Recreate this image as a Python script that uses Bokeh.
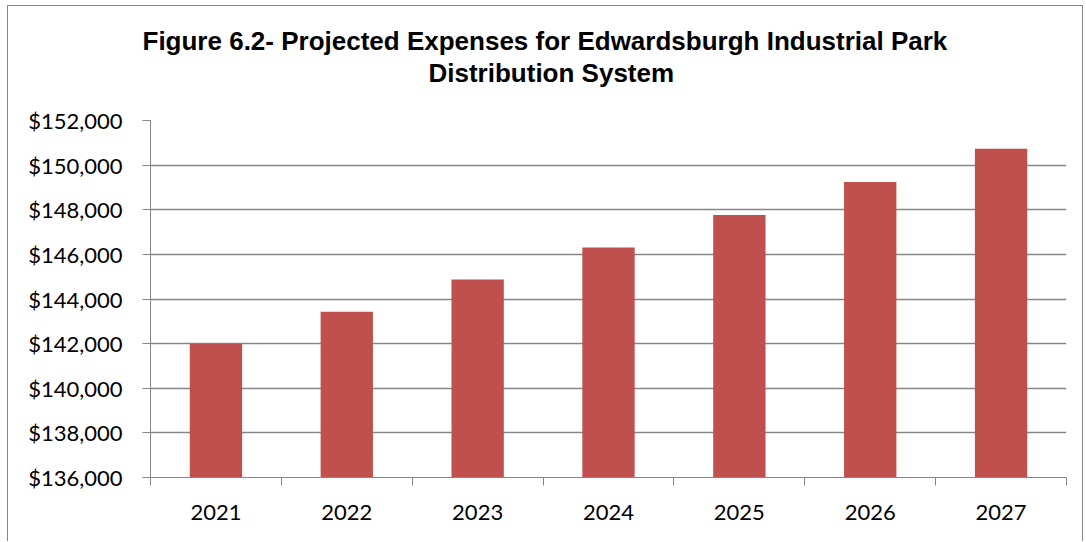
from bokeh.plotting import figure
from bokeh.models import Range1d, FixedTicker, NumeralTickFormatter, Title, ColumnDataSource
from bokeh.embed import file_html
from bokeh.resources import INLINE

# ---- data ----
years = ["2021", "2022", "2023", "2024", "2025", "2026", "2027"]
expenses = [142000, 143430, 144870, 146310, 147770, 149240, 150730]
y_ticks = [136000, 138000, 140000, 142000, 144000, 146000, 148000, 150000, 152000]
title_line1 = "Figure 6.2- Projected Expenses for Edwardsburgh Industrial Park"
title_line2 = "Distribution System"

# ---- layout helpers (category slots on a numeric scale) ----
centers = [i + 0.5 for i in range(len(years))]
bounds = list(range(len(years) + 1))

src = ColumnDataSource(dict(x=centers, year=years, expense=expenses))

GRAY = "#868686"
LABEL_FONT = "Lato"
MB_TOP, FRAME_H, MB_BOTTOM = 114, 357, 64

p = figure(
    frame_width=916, frame_height=FRAME_H,
    x_range=Range1d(0, len(years)),
    y_range=Range1d(y_ticks[0], y_ticks[-1]),
    output_backend="svg", toolbar_location=None,
    min_border_left=142, min_border_right=16,
    min_border_top=MB_TOP, min_border_bottom=MB_BOTTOM,
)
p.styles = {"margin-left": "7px", "margin-top": "5px",
            "border-left": "1px solid " + GRAY,
            "border-top": "1px solid " + GRAY,
            "border-right": "1px solid " + GRAY}
p.outline_line_color = None
p.background_fill_color = "white"
p.border_fill_color = "white"

p.vbar(x="x", top="expense", bottom=y_ticks[0], width=0.4, source=src,
       fill_color="#C0504D", line_color=None)

# x axis (the default bottom axis)
xa = p.below[0]
xa.ticker = FixedTicker(ticks=centers, minor_ticks=bounds)
xa.major_label_overrides = {c: y for c, y in zip(centers, years)}
xa.major_tick_out = 0
xa.major_tick_in = 0
xa.minor_tick_out = 8
xa.minor_tick_in = 0
xa.minor_tick_line_color = GRAY
xa.axis_line_color = GRAY
xa.major_label_standoff = 19
xa.major_label_text_font = LABEL_FONT
xa.major_label_text_font_size = "22px"
xa.major_label_text_color = "#000000"
p.xgrid.visible = False

# two-line title (added nearest-to-plot first)
title_style = dict(align="left", text_font="Liberation Sans", text_font_style="bold",
                   text_font_size="26px", text_color="#000000")
p.add_layout(Title(text=title_line2, offset=278, standoff=66, **title_style), "above")
p.add_layout(Title(text=title_line1, offset=-8, standoff=-66, **title_style), "above")

# y axis
ya = p.left[0]
ya.ticker = FixedTicker(ticks=y_ticks, minor_ticks=[])
ya.formatter = NumeralTickFormatter(format="$0,0")
ya.major_tick_out = 8
ya.major_tick_in = 0
ya.minor_tick_out = 0
ya.minor_tick_in = 0
ya.major_tick_line_color = GRAY
ya.axis_line_color = GRAY
ya.major_label_standoff = 20
ya.major_label_text_font = LABEL_FONT
ya.major_label_text_font_size = "22px"
ya.major_label_text_color = "#000000"
p.ygrid.ticker = FixedTicker(ticks=y_ticks, minor_ticks=[])
p.ygrid.grid_line_color = GRAY
p.ygrid.grid_line_width = 1.3

open("out.html", "w").write(file_html(p, INLINE))
